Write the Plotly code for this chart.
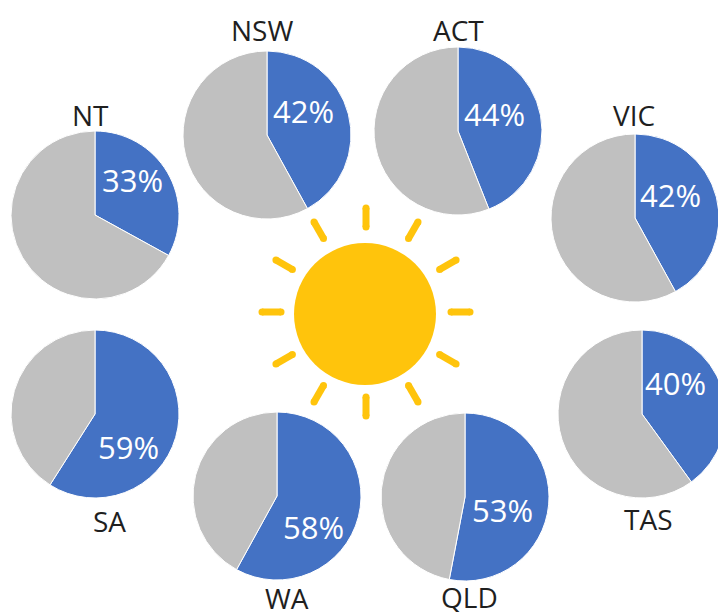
import math
import plotly.graph_objects as go

states = ["NSW", "ACT", "VIC", "NT", "SA", "WA", "QLD", "TAS"]
shares = [42, 44, 42, 33, 59, 58, 53, 40]
pie_cx = [267, 458, 635, 95, 95, 277, 465, 642]
pie_cy = [135, 131, 218, 215, 414, 496, 497, 414]
label_x = [262, 458, 634, 90, 109, 287, 469, 648]
label_y = [30, 30, 115, 115, 521, 598, 597, 519]
pct_x = [303, 494, 670, 132, 128, 313, 502, 675]
pct_y = [111, 114, 195, 180, 447, 527, 510, 383]
ray_angles = [0, 30, 60, 90, 120, 150, 180, 210, 240, 270, 300, 330]

W, H, R = 760, 612, 84
BLUE, GRAY, SUN = "#4472C4", "#C0C0C0", "#FFC40C"
FONT = "Open Sans"

fig = go.Figure()
ann = []
for s, v, cx, cy, lx, ly, px, py in zip(states, shares, pie_cx, pie_cy, label_x, label_y, pct_x, pct_y):
    fig.add_trace(go.Pie(
        values=[v, 100 - v], labels=["Yes", "No"], sort=False, direction="clockwise", rotation=0,
        textinfo="none", hoverinfo="label+percent", showlegend=False,
        marker=dict(colors=[BLUE, GRAY], line=dict(color="white", width=1)),
        domain=dict(x=[(cx - R) / W, (cx + R) / W], y=[1 - (cy + R) / H, 1 - (cy - R) / H]),
    ))
    ann.append(dict(x=lx, y=ly, text=s, showarrow=False, xref="x", yref="y", xanchor="center", yanchor="middle",
                    font=dict(family=FONT, size=28, color="#1f1f1f")))
    ann.append(dict(x=px, y=py, text=f"{v}%", showarrow=False, xref="x", yref="y", xanchor="center", yanchor="middle",
                    font=dict(family=FONT, size=31, color="white")))

sun_x, sun_y, sun_r = 365, 314, 71
ray_x, ray_y = 366, 312
ray_in, ray_out = 85, 104
xs, ys = [], []
for a in ray_angles:
    t = math.radians(a)
    xs += [ray_x + ray_in * math.cos(t), ray_x + ray_out * math.cos(t), None]
    ys += [ray_y - ray_in * math.sin(t), ray_y - ray_out * math.sin(t), None]
fig.add_trace(go.Scatter(x=xs, y=ys, mode="lines+markers", hoverinfo="skip", showlegend=False,
                         line=dict(color=SUN, width=7), marker=dict(color=SUN, size=7)))
fig.add_trace(go.Scatter(x=[sun_x], y=[sun_y], mode="markers", hoverinfo="skip", showlegend=False,
                         marker=dict(color=SUN, size=2 * sun_r)))

fig.update_layout(
    width=W, height=H, autosize=False, margin=dict(l=0, r=0, t=0, b=0),
    paper_bgcolor="white", plot_bgcolor="white", annotations=ann,
    xaxis=dict(range=[0, W], visible=False, domain=[0, 1], fixedrange=True),
    yaxis=dict(range=[H, 0], visible=False, domain=[0, 1], fixedrange=True),
)
fig.write_html("out.html", config={"displayModeBar": False},
               post_script="document.body.style.margin='0';document.body.style.overflow='hidden';document.documentElement.style.overflow='hidden';")
